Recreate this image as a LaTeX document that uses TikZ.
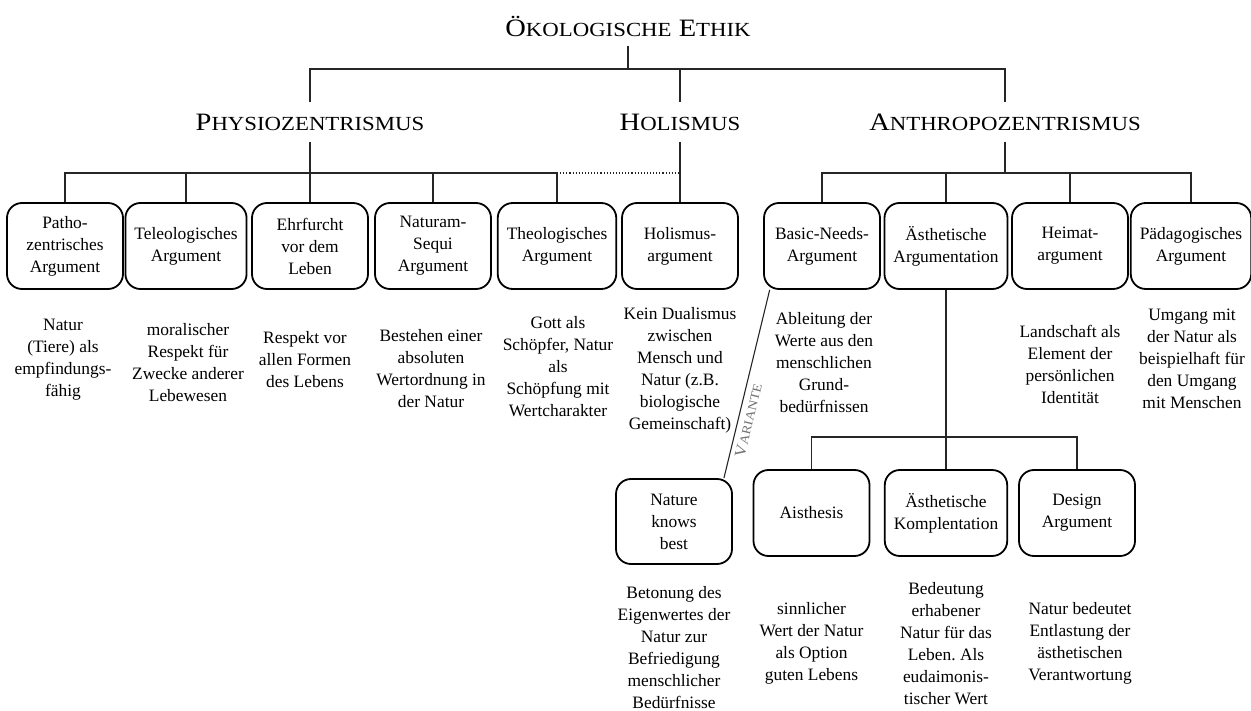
\documentclass[tikz,border=0pt]{standalone}
\usepackage{fontspec}
\setmainfont{Liberation Serif}
\newfontfamily\capsfont[FakeStretch=1.14]{Liberation Serif}
\newcommand\smc[1]{{\fontsize{20}{24}\selectfont #1}}
\newcommand\bodyfont{\fontsize{17.4}{22}\selectfont\frenchspacing}
\usetikzlibrary{calc}
\tikzset{
  conn/.style={line width=1.1pt, draw=black!85},
  argbox/.style={draw, line width=1.8pt, rounded corners=15pt, minimum width=116pt,
    minimum height=86pt, align=center, inner xsep=9pt, font=\bodyfont},
  desc/.style={align=center, inner sep=0pt, font=\bodyfont},
  head/.style={font=\capsfont\fontsize{25}{30}\selectfont, text height=17pt,
    text depth=0pt, inner ysep=11pt},
}
\begin{document}
\begin{tikzpicture}[x=1pt, y=-1pt]
\useasboundingbox (0,0) rectangle (1251,711);

% headings
\node[head, inner ysep=9pt] (title) at (628,28) {Ö\smc{KOLOGISCHE} E\smc{THIK}};
\node[head] (phys) at (310,122) {P\smc{HYSIOZENTRISMUS}};
\node[head] (hol)  at (680,122) {H\smc{OLISMUS}};
\node[head] (anth) at (1005,122) {A\smc{NTHROPOZENTRISMUS}};

% first row of arguments
\node[argbox] (patho) at (65,246)   {Patho-\\zentrisches\\Argument};
\node[argbox] (tel)   at (186,246)  {Teleologisches\\Argument};
\node[argbox] (ehr)   at (310,246)  {Ehrfurcht\\vor dem\\Leben};
\node[argbox] (nat)   at (433,246)  {Naturam-\\Sequi\\Argument};
\node[argbox] (theo)  at (557,246)  {Theologisches\\Argument};
\node[argbox] (holarg) at (680,246) {Holismus-\\argument};
\node[argbox] (bn)    at (822,246)  {Basic-Needs-\\Argument};
\node[argbox] (aa)    at (946,246)  {Ästhetische\\Argumentation};
\node[argbox] (heim)  at (1070,246) {Heimat-\\argument};
\node[argbox] (paed)  at (1191,246) {Pädagogisches\\Argument};

% second row
\node[argbox, minimum height=85pt] (nkb) at (674,521.5) {Nature\\knows\\best};
\node[argbox] (ais)  at (811.5,513) {Aisthesis};
\node[argbox] (ak)   at (946,513)   {Ästhetische\\Komplentation};
\node[argbox] (des)  at (1077,513)  {Design\\Argument};

% descriptions
\node[desc] (d-patho) at (63,360)   {Natur\\(Tiere) als\\empfindungs-\\fähig};
\node[desc] (d-tel)   at (188,363)  {moralischer\\Respekt für\\Zwecke anderer\\Lebewesen};
\node[desc] (d-ehr)   at (305,360)  {Respekt vor\\allen Formen\\des Lebens};
\node[desc] (d-nat)   at (431,369)  {Bestehen einer\\absoluten\\Wertordnung in\\der Natur};
\node[desc] (d-theo)  at (558,366.5){Gott als\\Schöpfer, Natur\\als\\Schöpfung mit\\Wertcharakter};
\node[desc] (d-hol)   at (680,370)  {Kein Dualismus\\zwischen\\Mensch und\\Natur (z.B.\\biologische\\Gemeinschaft)};
\node[desc] (d-bn)    at (824,362.5){Ableitung der\\Werte aus den\\menschlichen\\Grund-\\bedürfnissen};
\node[desc] (d-heim)  at (1070,364) {Landschaft als\\Element der\\persönlichen\\Identität};
\node[desc] (d-paed)  at (1192,359) {Umgang mit\\der Natur als\\beispielhaft für\\den Umgang\\mit Menschen};
\node[desc] (d-nkb)   at (674,648)  {Betonung des\\Eigenwertes der\\Natur zur\\Befriedigung\\menschlicher\\Bedürfnisse};
\node[desc] (d-ais)   at (811.5,643.5) {sinnlicher\\Wert der Natur\\als Option\\guten Lebens};
\node[desc] (d-ak)    at (946,644)  {Bedeutung\\erhabener\\Natur für das\\Leben. Als\\eudaimonis-\\tischer Wert};
\node[desc] (d-des)   at (1080,643) {Natur bedeutet\\Entlastung der\\ästhetischen\\Verantwortung};

% junctions
\coordinate (j0) at (628,69);
\coordinate (j1) at (310,173);
\coordinate (j2) at (1005,173);
\coordinate (j3) at (946,437);

% tree connectors
\draw[conn] (title.south) -- (j0);
\draw[conn] (phys.north) |- (j0) -| (anth.north);
\draw[conn] (hol.north) -- (hol.north |- j0);

\draw[conn] (phys.south) -- (ehr.north);
\draw[conn] (patho.north) |- (j1) -| (theo.north);
\draw[conn] (tel.north) -- (tel.north |- j1);
\draw[conn] (nat.north) -- (nat.north |- j1);
\draw[conn, dotted] (theo.north |- j1) -- (holarg.north |- j1);
\draw[conn] (hol.south) -- (holarg.north);

\draw[conn] (anth.south) -- (j2);
\draw[conn] (bn.north) |- (j2) -| (paed.north);
\draw[conn] (aa.north) -- (aa.north |- j2);
\draw[conn] (heim.north) -- (heim.north |- j2);

\draw[conn] (aa.south) -- (ak.north);
\draw[conn] (ais.north) |- (j3) -| (des.north);

% the variant link with its label
\draw[conn] (nkb.41) -- node[sloped, below=1pt, pos=0.32, text=black!55,
  font=\capsfont\fontsize{15.5}{18}\selectfont]
  {V{\fontsize{12.5}{14}\selectfont ARIANTE}} (bn.220);
\end{tikzpicture}
\end{document}
